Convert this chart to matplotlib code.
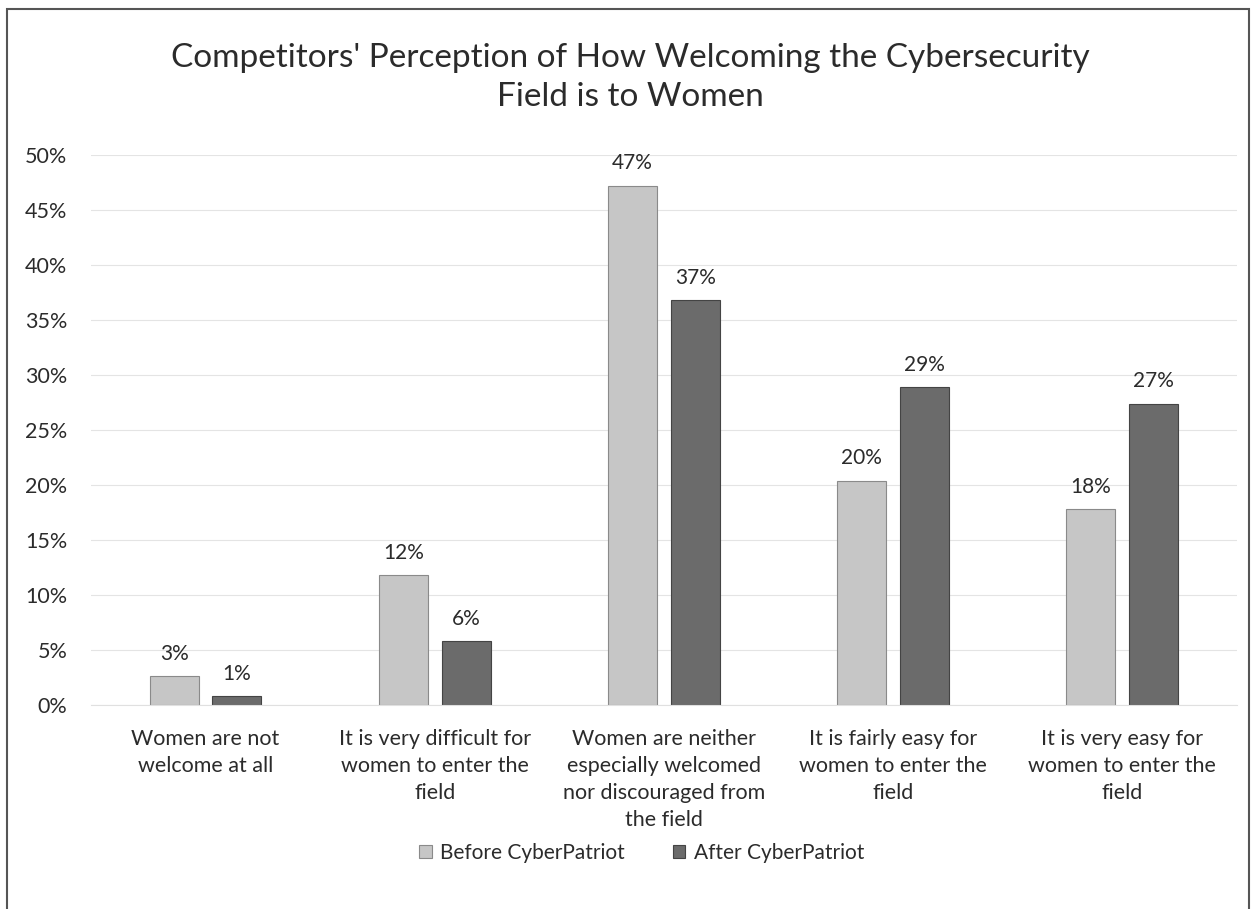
import matplotlib.pyplot as plt
import matplotlib.patches as mpatches
from matplotlib.ticker import PercentFormatter, MultipleLocator
import numpy as np

categories = ["Women are not\nwelcome at all",
              "It is very difficult for\nwomen to enter the\nfield",
              "Women are neither\nespecially welcomed\nnor discouraged from\nthe field",
              "It is fairly easy for\nwomen to enter the\nfield",
              "It is very easy for\nwomen to enter the\nfield"]
before = [0.026, 0.118, 0.472, 0.204, 0.178]
after = [0.008, 0.058, 0.368, 0.289, 0.274]
series_names = ["Before CyberPatriot", "After CyberPatriot"]

plt.rcParams['font.family'] = ['Lato', 'DejaVu Sans']
text_col = '#2b2b2b'

fig = plt.figure(figsize=(12.53, 9.09), dpi=100)
ax = fig.add_axes([0.0726, 0.2244, 0.9144, 0.6051])

x = np.arange(len(categories))
w = 0.214
off = 0.137
b1 = ax.bar(x - off, before, w, color='#c6c6c6', edgecolor='#8a8a8a', linewidth=0.8,
            label=series_names[0])
b2 = ax.bar(x + off, after, w, color='#6b6b6b', edgecolor='#444444', linewidth=0.8,
            label=series_names[1])

# data labels above each bar
for bars in (b1, b2):
    for r in bars:
        ax.annotate(f"{r.get_height():.0%}", (r.get_x() + r.get_width() / 2, r.get_height()),
                    xytext=(0, 9), textcoords='offset points', ha='center', va='bottom',
                    fontsize=15, color=text_col)

ax.set_xlim(-0.5, len(categories) - 0.5)
ax.set_ylim(0, 0.5)
ax.yaxis.set_major_locator(MultipleLocator(0.05))
ax.yaxis.set_major_formatter(PercentFormatter(1.0, decimals=0))
ax.grid(axis='y', color='#e4e4e4', linewidth=0.8)
ax.set_axisbelow(True)
for s in ('top', 'right', 'left'):
    ax.spines[s].set_visible(False)
ax.spines['bottom'].set_color('#e0e0e0')
ax.tick_params(axis='both', length=0, labelsize=15.5, colors=text_col)
ax.tick_params(axis='y', pad=17)
ax.set_xticks(x)
ax.set_xticklabels(categories, linespacing=1.45)
ax.tick_params(axis='x', pad=17)

fig.text(0.503, 0.915, "Competitors' Perception of How Welcoming the Cybersecurity\nField is to Women",
         ha='center', va='center', fontsize=24, color=text_col, linespacing=1.38)

fig.legend(loc='center', bbox_to_anchor=(0.512, 0.062), ncol=2, frameon=False,
           fontsize=15, handlelength=0.6, handleheight=0.6, columnspacing=2.3,
           handletextpad=0.4, labelcolor=text_col)

# outer chart frame
fig.patches.append(mpatches.Rectangle((7 / 1253, -0.05), 1242 / 1253, 1.05 - 9 / 909,
                                      transform=fig.transFigure, fill=False,
                                      edgecolor='#555555', linewidth=1.5))

fig.savefig('out.png', dpi=100)
